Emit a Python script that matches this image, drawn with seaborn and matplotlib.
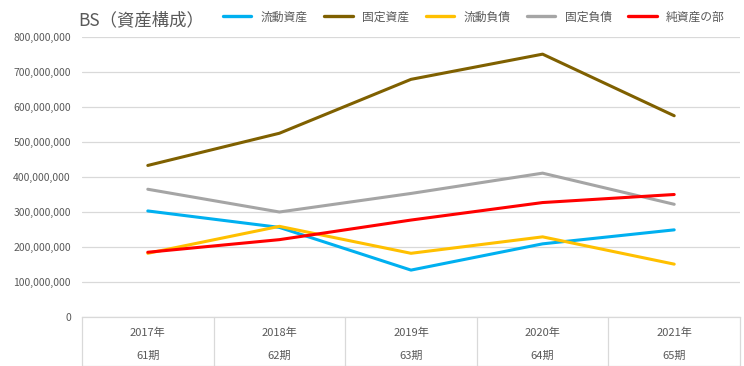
import matplotlib
matplotlib.use("Agg")
import matplotlib.pyplot as plt
import matplotlib.transforms as mtransforms
from matplotlib.ticker import FuncFormatter, MultipleLocator
import seaborn as sns
import pandas as pd

years = ["2017年", "2018年", "2019年", "2020年", "2021年"]
periods = ["61期", "62期", "63期", "64期", "65期"]
series_names = ["流動資産", "固定資産", "流動負債", "固定負債", "純資産の部"]
current_assets = [303e6, 256e6, 134e6, 209e6, 249e6]
fixed_assets = [433e6, 525e6, 679e6, 751e6, 575e6]
current_liab = [182e6, 259e6, 182e6, 229e6, 151e6]
fixed_liab = [365e6, 300e6, 353e6, 411e6, 322e6]
net_assets = [185e6, 221e6, 277e6, 327e6, 350e6]
colors = ["#00B0F0", "#7F6000", "#FFC000", "#A5A5A5", "#FF0000"]
title = "BS（資産構成）"

values = [current_assets, fixed_assets, current_liab, fixed_liab, net_assets]
rows = []
for name, vals in zip(series_names, values):
    for i, v in enumerate(vals):
        rows.append({"pos": i, "value": v, "series": name})
df = pd.DataFrame(rows)

sns.set_theme(style="white")
plt.rcParams["font.family"] = ["Noto Sans CJK JP", "DejaVu Sans"]
TXT = "#595959"
GRID = "#D9D9D9"

W, H = 744, 366
fig = plt.figure(figsize=(W / 100, H / 100), dpi=100)
L, R, T, B = 82, 740, 37, 317
ax = fig.add_axes([L / W, 1 - B / H, (R - L) / W, (B - T) / H])

sns.lineplot(data=df, x="pos", y="value", hue="series", hue_order=series_names,
             palette=colors, linewidth=2.2, ax=ax, sort=False, legend=True)

ax.set_xlim(-0.5, len(years) - 0.5)
ax.set_ylim(0, 800e6)
ax.yaxis.set_major_locator(MultipleLocator(100e6))
ax.yaxis.set_major_formatter(FuncFormatter(lambda v, p: f"{int(round(v)):,}"))
ax.grid(axis="y", color=GRID, linewidth=0.9)
ax.set_axisbelow(True)
for s in ["top", "right", "left"]:
    ax.spines[s].set_visible(False)
ax.spines["bottom"].set_color(GRID)
ax.spines["bottom"].set_linewidth(0.9)
ax.set_xticks([])
ax.set_xlabel("")
ax.set_ylabel("")
ax.tick_params(axis="y", length=0, pad=8, labelsize=7.5, labelcolor=TXT)

# category labels (two-level) and separators
trans = mtransforms.blended_transform_factory(ax.transData, fig.transFigure)
for i, (yr, pr) in enumerate(zip(years, periods)):
    ax.text(i, 1 - 333 / H, yr, transform=trans, ha="center", va="center",
            fontsize=8, color=TXT)
    ax.text(i, 1 - 356 / H, pr, transform=trans, ha="center", va="center",
            fontsize=8, color=TXT)
for b in range(len(years) + 1):
    xb = b - 0.5
    ax.plot([xb, xb], [1 - B / H, 1 - 365.5 / H], transform=trans, color=GRID,
            linewidth=0.9, clip_on=False)
ax.plot([-0.5, len(years) - 0.5], [1 - 365.5 / H, 1 - 365.5 / H], transform=trans,
        color=GRID, linewidth=0.9, clip_on=False)

fig.text(78 / W, 1 - 20 / H, title, ha="left", va="center", fontsize=12.5, color=TXT)

sns.move_legend(ax, "center", bbox_to_anchor=(474 / W, 1 - 17 / H),
                bbox_transform=fig.transFigure, ncol=5, frameon=False,
                title=None, fontsize=8.5, handlelength=2.4, handletextpad=0.8,
                columnspacing=1.4, labelcolor=TXT)
for h in ax.get_legend().get_lines():
    h.set_linewidth(2.4)

fig.savefig("out.png", dpi=100)
